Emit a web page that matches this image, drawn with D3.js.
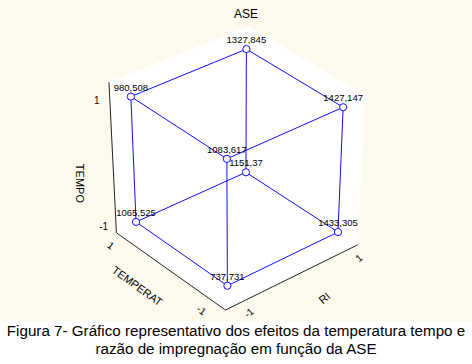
<!DOCTYPE html>
<html>
<head>
<meta charset="utf-8">
<script src="https://cdn.jsdelivr.net/npm/d3@7"></script>
<style>
  body { margin: 0; background: #fff; }
  text { font-family: "Liberation Sans", Arial, sans-serif; fill: #000; }
</style>
</head>
<body>
<div id="chart"></div>
<script>
// Factor levels of the three variables and the response (ASE) at each cube corner
const temperat = [-1, -1, -1, -1, 1, 1, 1, 1];
const ri = [-1, -1, 1, 1, -1, -1, 1, 1];
const tempo = [-1, 1, -1, 1, -1, 1, -1, 1];
const ase = [737.731, 1083.617, 1433.305, 1427.147, 1065.525, 980.508, 1151.37, 1327.845];
const axisTicks = [-1, 1];

const width = 472, height = 364;

const svg = d3.select("#chart").append("svg")
  .attr("width", width)
  .attr("height", height);

// cream plot background
svg.append("rect")
  .attr("x", 0).attr("y", 0)
  .attr("width", width).attr("height", 321)
  .attr("fill", "#fdf9ec");

// Scales from coded level to world units (box padded 20% past the levels)
const pad = 1.2;
const sT = d3.scaleLinear().domain([-1, 1]).range([-1, 1]);
const sR = d3.scaleLinear().domain([-1, 1]).range([-1, 1]);
const sZ = d3.scaleLinear().domain([-1, 1]).range([-1, 1]);

// simple perspective projection of the cube
const eT = [-47, -30.5], eR = [56.5, -25.3], eZ = [0, -62.5];
const cx = 237, cy = 166;
function project(t, r, z) {
  const w = 0.0185 * (-t - r) + 0.025 * z;
  const s = 1 / (1 - w);
  return [
    cx + s * (t * eT[0] + r * eR[0] + z * eZ[0]),
    cy + s * (t * eT[1] + r * eR[1] + z * eZ[1])
  ];
}
const P = (t, r, z) => project(sT(t), sR(r), sZ(z));
const line = d3.line();

// back walls and floor (white)
const walls = [
  [[pad, -pad, -pad], [pad, pad, -pad], [pad, pad, pad], [pad, -pad, pad]],
  [[-pad, pad, -pad], [pad, pad, -pad], [pad, pad, pad], [-pad, pad, pad]],
  [[pad, -pad, -pad], [pad, pad, -pad], [-pad, pad, -pad], [-pad, -pad, -pad]]
];
walls.forEach(wl => {
  svg.append("path")
    .attr("d", line(wl.map(p => P(...p))) + "Z")
    .attr("fill", "#fff");
});

// axis lines
const axes = [
  [[pad, -pad, -pad], [pad, -pad, pad]],
  [[pad, -pad, -pad], [-pad, -pad, -pad]],
  [[-pad, -pad, -pad], [-pad, pad, -pad]]
];
axes.forEach(a => {
  svg.append("path")
    .attr("d", line(a.map(p => P(...p))))
    .attr("fill", "none")
    .attr("stroke", "#222")
    .attr("stroke-width", 1);
});

// tick labels
axisTicks.forEach(v => {
  let p = P(pad, -1.41, v);
  svg.append("text").attr("x", p[0]).attr("y", p[1])
    .attr("text-anchor", "middle").attr("dominant-baseline", "central")
    .style("font-size", "10px").text(v);

  p = P(v, -1.45, -pad);
  svg.append("text")
    .attr("transform", `translate(${p[0]},${p[1]}) rotate(36)`)
    .attr("text-anchor", "middle").attr("dominant-baseline", "central")
    .style("font-size", "10px").text(v);

  p = P(-1.45, v, -pad);
  svg.append("text")
    .attr("transform", `translate(${p[0]},${p[1]}) rotate(-40)`)
    .attr("text-anchor", "middle").attr("dominant-baseline", "central")
    .style("font-size", "10px").text(v);
});

// axis titles
let tp = P(pad, -1.76, -0.15);
svg.append("text")
  .attr("transform", `translate(${tp[0]},${tp[1]}) rotate(90)`)
  .attr("text-anchor", "middle").attr("dominant-baseline", "central")
  .style("font-size", "11px").text("TEMPO");

tp = P(0, -1.76, -pad);
svg.append("text")
  .attr("transform", `translate(${tp[0]},${tp[1]}) rotate(36)`)
  .attr("text-anchor", "middle").attr("dominant-baseline", "central")
  .style("font-size", "11px").text("TEMPERAT");

tp = P(-1.85, 0, -pad);
svg.append("text")
  .attr("transform", `translate(${tp[0]},${tp[1]}) rotate(-40)`)
  .attr("text-anchor", "middle").attr("dominant-baseline", "central")
  .style("font-size", "11px").text("RI");

// cube edges between corners that differ in exactly one factor
const corners = ase.map((v, i) => ({ t: temperat[i], r: ri[i], z: tempo[i], v: v }));
corners.forEach((a, i) => {
  corners.forEach((b, j) => {
    if (j <= i) return;
    const diff = (a.t !== b.t) + (a.r !== b.r) + (a.z !== b.z);
    if (diff !== 1) return;
    svg.append("path")
      .attr("d", line([P(a.t, a.r, a.z), P(b.t, b.r, b.z)]))
      .attr("fill", "none")
      .attr("stroke", "#0f0fff")
      .attr("stroke-width", 1);
  });
});

// corner markers and values
corners.forEach(c => {
  const p = P(c.t, c.r, c.z);
  svg.append("circle")
    .attr("cx", p[0]).attr("cy", p[1]).attr("r", 3.6)
    .attr("fill", "#fff")
    .attr("stroke", "#0f0fff")
    .attr("stroke-width", 1);
  svg.append("text")
    .attr("x", p[0]).attr("y", p[1] - 6)
    .attr("text-anchor", "middle")
    .style("font-size", "9.5px")
    .text(String(c.v).replace(".", ","));
});

// title
svg.append("text")
  .attr("x", 246).attr("y", 18)
  .attr("text-anchor", "middle")
  .style("font-size", "12px")
  .text("ASE");

// caption
const caption = [
  "Figura 7- Gráfico representativo dos efeitos da temperatura tempo e",
  "razão de impregnação em função da ASE"
];
caption.forEach((c, i) => {
  svg.append("text")
    .attr("x", 236).attr("y", 336 + i * 18)
    .attr("text-anchor", "middle")
    .style("font-size", "15.2px")
    .text(c);
});
</script>
</body>
</html>
